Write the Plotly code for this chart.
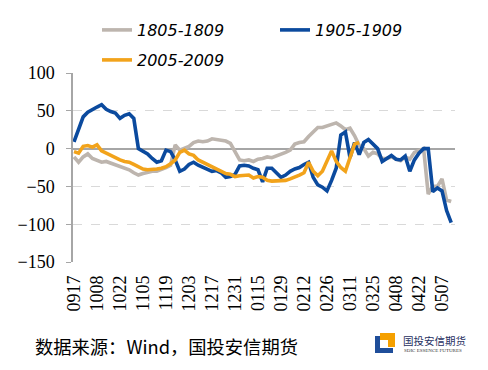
import plotly.graph_objects as go

# ---------------- data ----------------
tick_labels = ["0917", "1008", "1022", "1105", "1119", "1203", "1217", "1231", "0115",
               "0129", "0212", "0226", "0311", "0325", "0408", "0422", "0507"]
tick_days = [0, 10, 20, 30, 40, 50, 60, 70, 80, 90, 100, 110, 120, 130, 140, 150, 160]

# trading-day index of every plotted value (every second trading day)
day = list(range(0, 165, 2))

s1805 = [-11, -18, -11, -7, -13, -16, -18, -17, -19, -22, -23, -25, -28, -32, -35, -33,
         -31, -30, -30, -28, -25, -22, 5, -2, 0, 3, 8, 10, 9, 10, 13, 12, 10, 10, 7, -5,
         -15, -16, -15, -17, -14, -13, -11, -12, -10, -7, -5, -2, 6, 8, 9, 16, 22, 28,
         28, 30, 31, 34, 30, 25, 27, 17, 4, 0, -10, -5, -7, -13, -13, -11, -14, -16,
         -11, -14, -5, -2, 0, -60, -50, -50, -40, -68, -70]

s1905 = [9, 25, 42, 48, 52, 55, 58, 52, 49, 47, 40, 44, 46, 40, 0, -3, -7, -13, -18,
         -16, -2, -4, -15, -30, -27, -21, -18, -22, -25, -27, -30, -29, -32, -38, -37,
         -34, -23, -22, -23, -26, -28, -44, -26, -26, -32, -38, -35, -30, -27, -25, -21,
         -18, -38, -48, -51, -56, -42, -26, 18, 22, -12, 8, -8, 8, 12, 6, 0, -17, -13,
         -9, -14, -15, -10, -30, -15, -6, 0, 0, -57, -52, -56, -82, -98]

s2005 = [-4, -6, 3, 4, 2, 5, -3, -6, -10, -13, -15, -17, -18, -21, -24, -27, -28, -28,
         -27, -26, -24, -20, -15, -5, -2, -7, -9, -15, -18, -21, -24, -27, -30, -33, -34,
         -37, -36, -36, -35, -39, -37, -38, -42, -43, -43, -42, -42, -40, -38, -35, -32,
         -18, -30, -36, -30, -17, -3, -17, -25, -30, -12, 6, 8]

names = ["1805-1809", "1905-1909", "2005-2009"]
colors = ["#BDB5AE", "#0B4A9E", "#F2A31B"]

# ---------------- layout helpers ----------------
W, H = 488, 370
L, R, T, B = 73, 455, 73, 262


def px(x):
    return (x - L) / (R - L)


def py(y):
    return (B - y) / (B - T)


fig = go.Figure()
for name, vals, col, leg in [(names[0], s1805, colors[0], "legend"),
                             (names[1], s1905, colors[1], "legend"),
                             (names[2], s2005, colors[2], "legend2")]:
    fig.add_trace(go.Scatter(x=day[:len(vals)], y=vals, mode="lines", name=name,
                             line=dict(color=col, width=3.6), legend=leg))

legend_font = dict(family="DejaVu Sans", size=16, style="italic", color="#000000")
serif_font = dict(family="Liberation Serif", size=18, color="#000000")

fig.update_layout(
    width=W, height=H,
    font=dict(family="Liberation Serif", size=18, color="#000000"),
    margin=dict(l=L, r=W - R, t=T, b=H - B, autoexpand=False),
    paper_bgcolor="white", plot_bgcolor="white",
    showlegend=True,
    legend=dict(orientation="h", xref="container", yref="container",
                x=97 / W, y=1 - 30 / H, xanchor="left", yanchor="middle",
                font=legend_font, entrywidth=133, entrywidthmode="pixels",
                bgcolor="rgba(0,0,0,0)", traceorder="normal"),
    legend2=dict(orientation="h", xref="container", yref="container",
                 x=97 / W, y=1 - 60 / H, xanchor="left", yanchor="middle",
                 font=legend_font, bgcolor="rgba(0,0,0,0)"),
    xaxis=dict(range=[-0.43, 165.65], tickmode="array", tickvals=tick_days,
               ticktext=tick_labels, tickangle=-90, showgrid=False, zeroline=False,
               showline=False, ticks="", automargin=False, ticklabelstandoff=9,
               tickfont=serif_font),
    yaxis=dict(range=[-150, 100], tickvals=[-150, -100, -50, 0, 50, 100],
               showgrid=True, gridcolor="#D9D9D9", griddash="dash", gridwidth=1,
               zeroline=True, zerolinecolor="#A6A6A6", zerolinewidth=1.5,
               showline=True, linecolor="#A6A6A6", linewidth=1.5, automargin=False,
               ticks="outside", ticklen=5, tickcolor="#A6A6A6", ticklabelstandoff=8,
               tickfont=serif_font),
)

# source note
fig.add_annotation(text="数据来源：Wind，国投安信期货", xref="paper", yref="paper",
                   x=px(33), y=py(346), xanchor="left", yanchor="middle", showarrow=False,
                   font=dict(family="Noto Sans CJK SC", size=18.3, color="#000000"))

# logo
shapes = [
    dict(x0=380, x1=395, y0=333, y1=347, color="#F5A000"),
    dict(x0=380, x1=388, y0=340, y1=348, color="#FFFFFF"),
    dict(x0=375, x1=380, y0=336, y1=353, color="#1F4E9A"),
    dict(x0=375, x1=393, y0=348, y1=353, color="#1F4E9A"),
]
for s in shapes:
    fig.add_shape(type="rect", xref="paper", yref="paper",
                  x0=px(s["x0"]), x1=px(s["x1"]), y0=py(s["y1"]), y1=py(s["y0"]),
                  fillcolor=s["color"], line=dict(width=0), layer="above")
fig.add_annotation(text="国投安信期货", xref="paper", yref="paper", x=px(401), y=py(340),
                   xanchor="left", yanchor="middle", showarrow=False,
                   font=dict(family="Noto Sans CJK SC", size=10.5, color="#1F2F5F"))
fig.add_annotation(text="SDIC ESSENCE FUTURES", xref="paper", yref="paper", x=px(402),
                   y=py(350.5), xanchor="left", yanchor="middle", showarrow=False,
                   font=dict(family="Liberation Serif", size=5, color="#333333"))

fig.write_html("out.html", config={"displayModeBar": False},
               post_script="document.body.style.margin='0';")
